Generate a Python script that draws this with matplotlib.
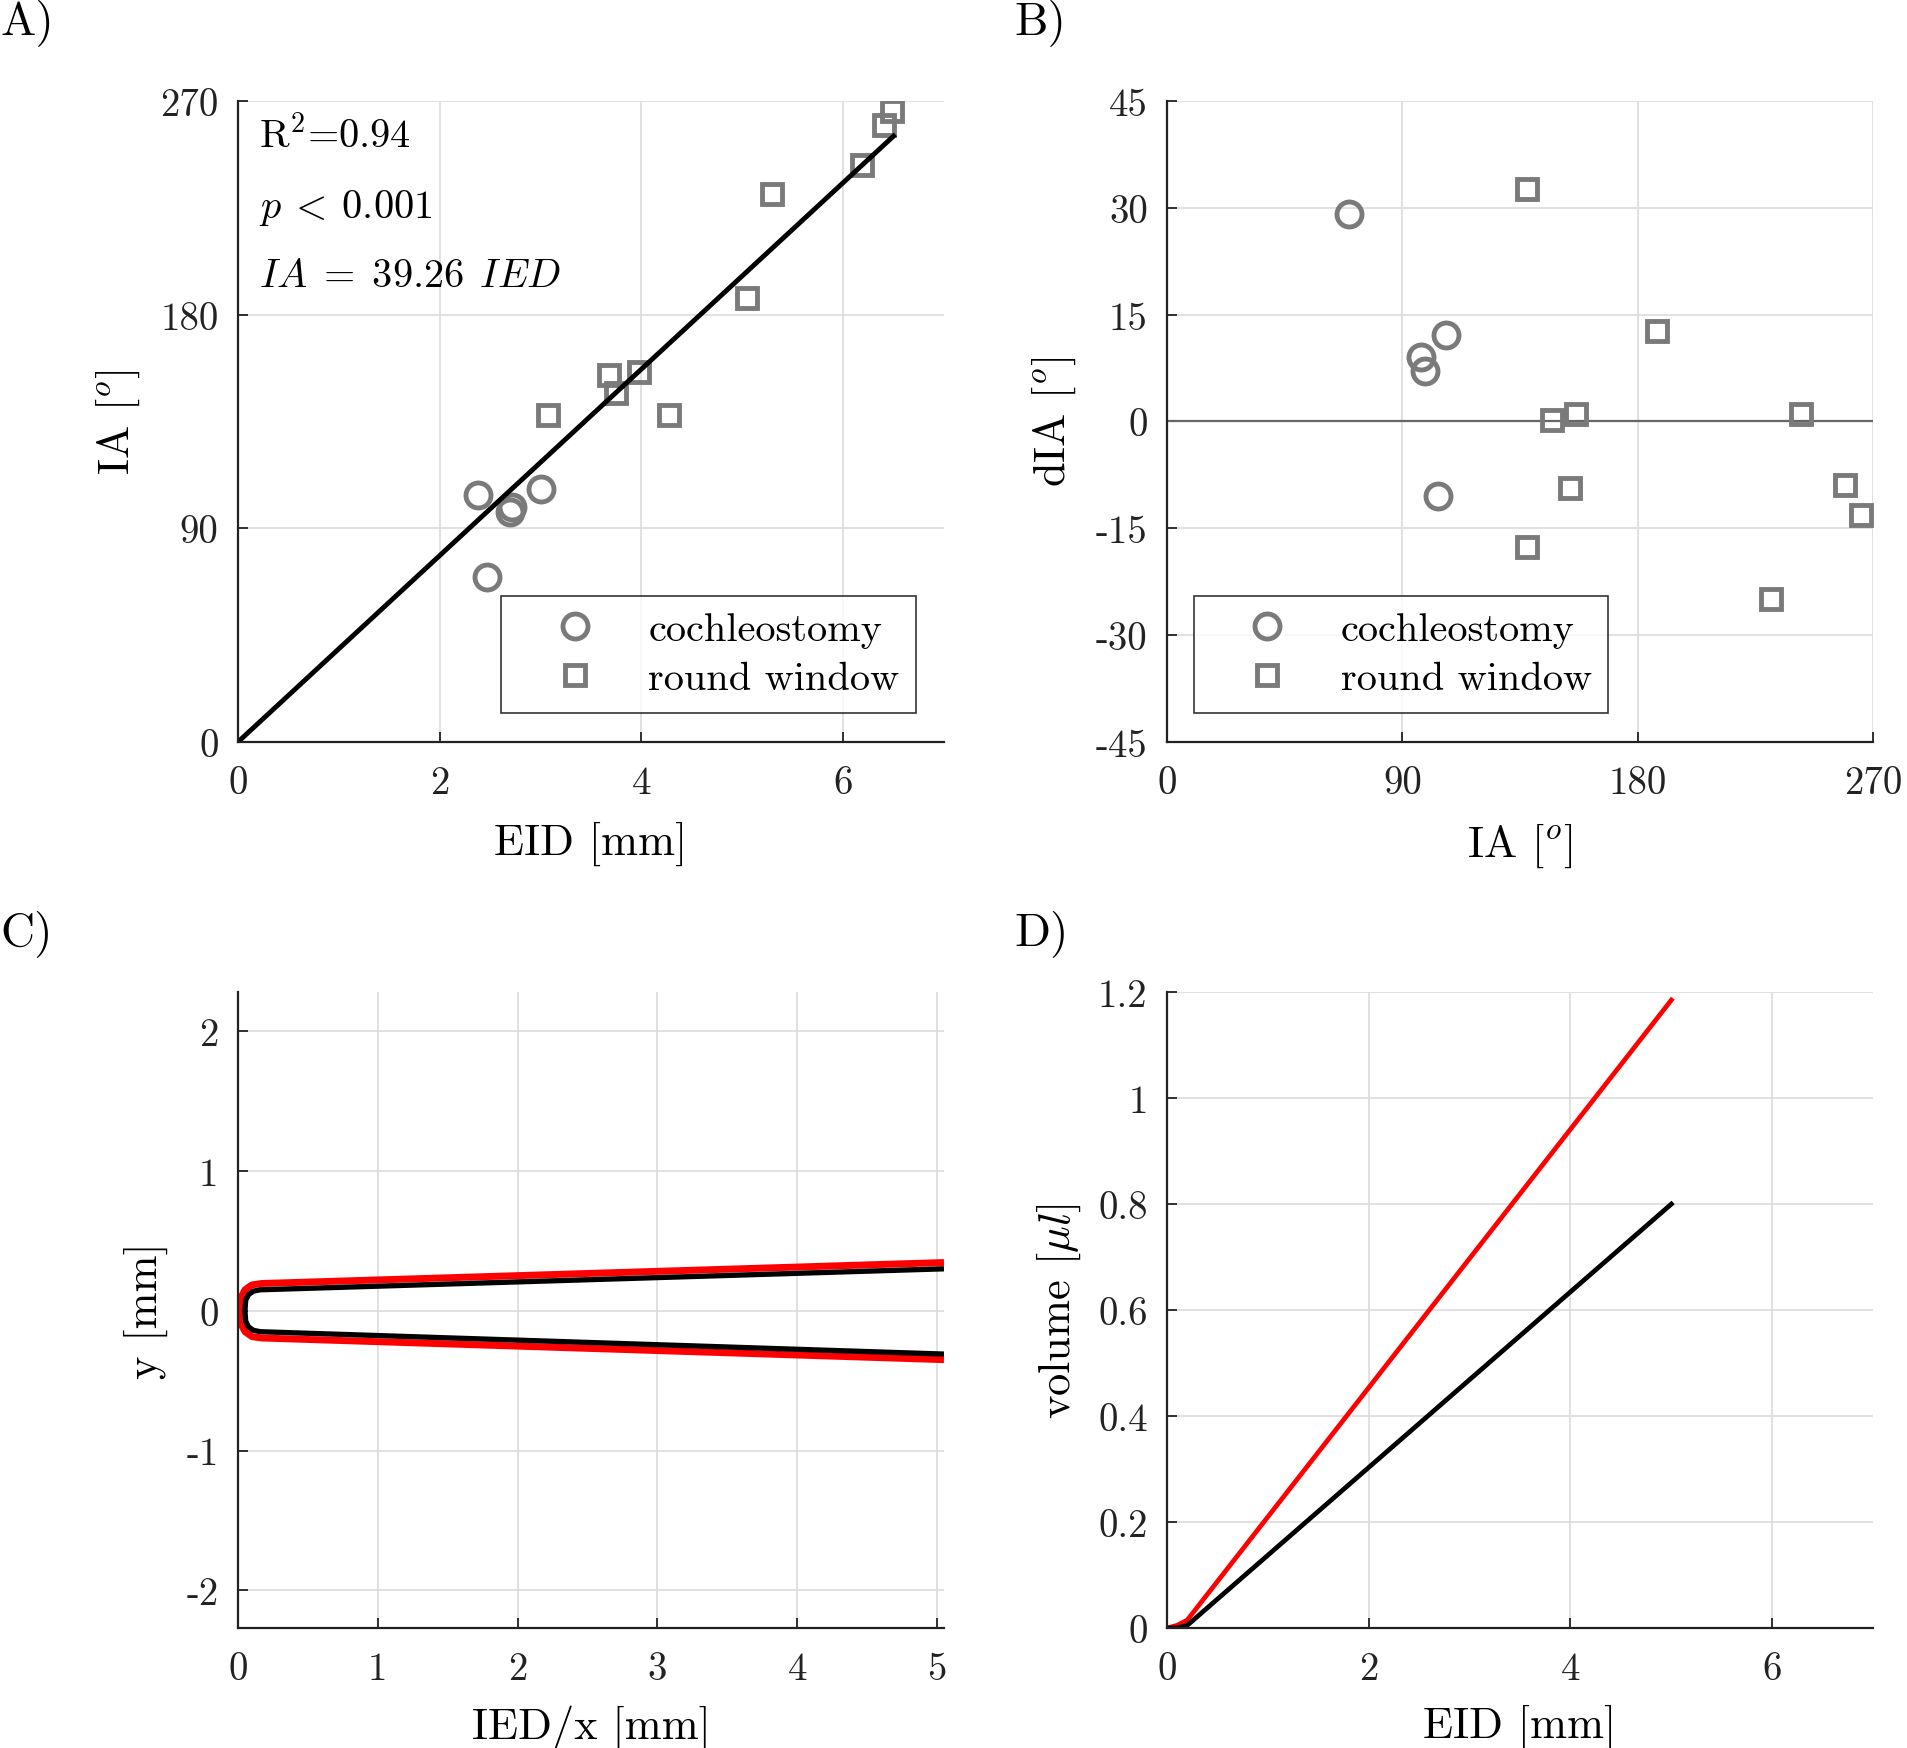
import matplotlib
matplotlib.use('Agg')
import matplotlib.pyplot as plt

plt.rcParams['font.family'] = 'serif'
plt.rcParams['font.serif'] = ['cmr10']
plt.rcParams['mathtext.fontset'] = 'cm'
plt.rcParams['axes.unicode_minus'] = False

# panel A: insertion depth vs insertion angle
coch_eid = [2.38, 2.47, 2.70, 2.72, 3.00]
coch_ia = [104.0, 69.6, 97.0, 99.0, 106.5]
rw_eid = [3.07, 3.68, 3.75, 3.98, 4.27, 5.05, 5.29, 6.19, 6.41, 6.48]
rw_ia = [137.8, 154.7, 147.0, 155.9, 137.8, 187.2, 231.0, 243.0, 260.0, 265.8]
fit_eid = [0.0, 6.5]
fit_ia = [0.0, 255.2]

# panel B: residuals
coch_ia_b = [103.7, 69.5, 97.2, 98.8, 106.7]
coch_dia = [-10.4, 29.1, 9.1, 7.1, 12.2]
rw_ia_b = [137.7, 154.2, 147.2, 156.5, 137.7, 187.4, 230.9, 242.6, 259.3, 265.3]
rw_dia = [-17.6, -9.3, 0.16, 1.1, 32.7, 12.7, -24.9, 1.1, -8.9, -13.1]

# panel C: electrode outline (inner black, outer red)
blk_x = [5.05, 0.16, 0.11, 0.075, 0.055, 0.05, 0.055, 0.075, 0.11, 0.16, 5.05]
blk_y = [0.30, 0.15, 0.14, 0.115, 0.075, 0.0, -0.075, -0.115, -0.14, -0.15, -0.31]
red_x = [5.05, 0.17, 0.10, 0.05, 0.022, 0.014, 0.022, 0.05, 0.10, 0.17, 5.05]
red_y = [0.345, 0.195, 0.185, 0.15, 0.095, 0.0, -0.095, -0.15, -0.185, -0.195, -0.35]

# panel D: volume vs depth
vol_x = [0.0, 0.1, 0.2, 5.0]
vol_red = [0.0, 0.005, 0.015, 1.185]
vol_blk = [0.0, 0.0, 0.005, 0.80]

gray = '#7a7a7a'
TICK = 28
LAB = 32
LEG = 29

fig = plt.figure(figsize=(19.07, 17.49), dpi=100)
axA = fig.add_axes([0.1248, 0.5752, 0.3702, 0.3665])
axB = fig.add_axes([0.6120, 0.5752, 0.3702, 0.3665])
axC = fig.add_axes([0.1248, 0.0686, 0.3702, 0.3636])
axD = fig.add_axes([0.6120, 0.0686, 0.3702, 0.3636])


def style(ax):
    ax.spines['top'].set_visible(False)
    ax.spines['right'].set_visible(False)
    for s in ['left', 'bottom']:
        ax.spines[s].set_linewidth(1.6)
        ax.spines[s].set_color('#222222')
    ax.grid(True, color='#dcdcdc', linewidth=1.2)
    ax.set_axisbelow(True)
    ax.tick_params(direction='in', length=7, width=1.3, labelsize=TICK, colors='#222222')
    ax.tick_params(axis='y', pad=14)
    ax.tick_params(axis='x', pad=17)


def legend(ax, loc, anchor):
    leg = ax.legend(loc=loc, bbox_to_anchor=anchor, fontsize=LEG, frameon=True,
                    fancybox=False, edgecolor='black', handlelength=2.85, handletextpad=0.4,
                    borderpad=0.4, labelspacing=0.32, borderaxespad=0)
    leg.get_frame().set_linewidth(1.2)


# A
style(axA)
axA.plot(coch_eid, coch_ia, 'o', ms=18, mfc='none', mec=gray, mew=3.5, label='cochleostomy')
axA.plot(rw_eid, rw_ia, 's', ms=15, mfc='none', mec=gray, mew=3.5, label='round window')
axA.plot(fit_eid, fit_ia, color='black', lw=3.5)
axA.set_xlim(0, 7)
axA.set_ylim(0, 270)
axA.set_xticks([0, 2, 4, 6])
axA.set_xticklabels(['0', '2', '4', '6'])
axA.set_yticks([0, 90, 180, 270])
axA.set_yticklabels(['0', '90', '180', '270'])
axA.set_xlabel('EID [mm]', fontsize=LAB, labelpad=14)
axA.set_ylabel(r'IA [$^o$]', fontsize=LAB, labelpad=13)
axA.text(0.03, 0.947, r'R$^2$=0.94', transform=axA.transAxes, fontsize=29, va='center')
axA.text(0.03, 0.835, r'$p\:<\:0.001$', transform=axA.transAxes, fontsize=29, va='center')
axA.text(0.03, 0.727, r'$IA\;=\;39.26\;\,IED$', transform=axA.transAxes, fontsize=29, va='center')
legend(axA, 'lower right', (0.96, 0.045))

# B
style(axB)
axB.axhline(0, color='#666666', lw=1.6)
axB.plot(coch_ia_b, coch_dia, 'o', ms=18, mfc='none', mec=gray, mew=3.5, label='cochleostomy')
axB.plot(rw_ia_b, rw_dia, 's', ms=15, mfc='none', mec=gray, mew=3.5, label='round window')
axB.set_xlim(0, 270)
axB.set_ylim(-45, 45)
axB.set_xticks([0, 90, 180, 270])
axB.set_xticklabels(['0', '90', '180', '270'])
axB.set_yticks([-45, -30, -15, 0, 15, 30, 45])
axB.set_yticklabels(['-45', '-30', '-15', '0', '15', '30', '45'])
axB.set_xlabel(r'IA [$^o$]', fontsize=LAB, labelpad=14)
axB.set_ylabel(r'dIA [$^o$]', fontsize=LAB, labelpad=13)
legend(axB, 'lower left', (0.038, 0.045))

# C
style(axC)
axC.plot(red_x, red_y, color='red', lw=5, solid_joinstyle='round', solid_capstyle='butt')
axC.plot(blk_x, blk_y, color='black', lw=3.8, solid_joinstyle='round', solid_capstyle='butt')
axC.set_xlim(0, 5.05)
axC.set_ylim(-2.27, 2.28)
axC.set_xticks([0, 1, 2, 3, 4, 5])
axC.set_xticklabels(['0', '1', '2', '3', '4', '5'])
axC.set_yticks([-2, -1, 0, 1, 2])
axC.set_yticklabels(['-2', '-1', '0', '1', '2'])
axC.set_xlabel('IED/x [mm]', fontsize=LAB, labelpad=12)
axC.set_ylabel('y [mm]', fontsize=LAB, labelpad=13)

# D
style(axD)
axD.plot(vol_x, vol_red, color='red', lw=3.4)
axD.plot(vol_x, vol_blk, color='black', lw=3.4)
axD.set_xlim(0, 7)
axD.set_ylim(0, 1.2)
axD.set_xticks([0, 2, 4, 6])
axD.set_xticklabels(['0', '2', '4', '6'])
axD.set_yticks([0, 0.2, 0.4, 0.6, 0.8, 1.0, 1.2])
axD.set_yticklabels(['0', '0.2', '0.4', '0.6', '0.8', '1', '1.2'])
axD.set_xlabel('EID [mm]', fontsize=LAB, labelpad=12)
axD.set_ylabel(r'volume [$\mu l$]', fontsize=LAB, labelpad=11)

for lbl, x, y in [('A)', 0.0, 0.987), ('B)', 0.532, 0.987), ('C)', 0.0, 0.466), ('D)', 0.532, 0.466)]:
    fig.text(x, y, lbl, fontsize=34, ha='left', va='center')

fig.savefig('out.png', dpi=100)
